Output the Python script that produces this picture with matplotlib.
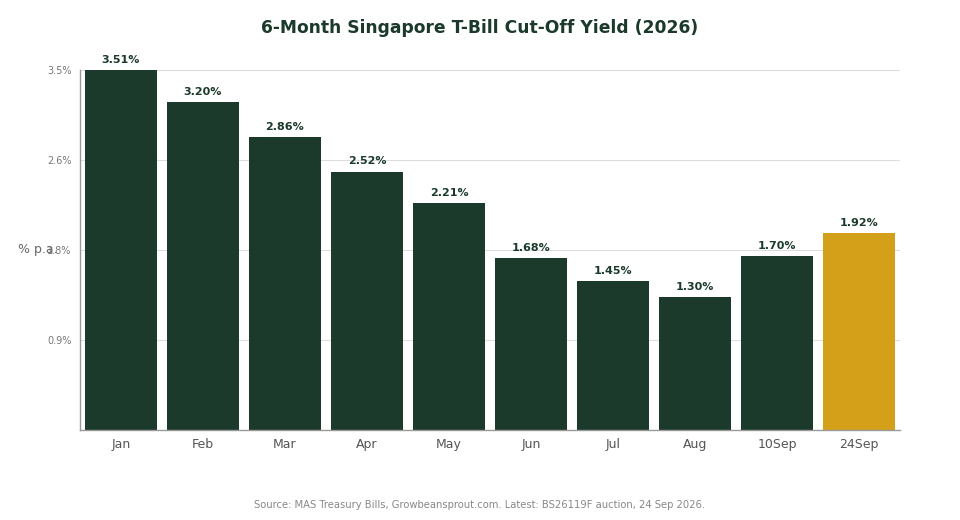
import numpy as np
import matplotlib.pyplot as plt
from matplotlib.ticker import FuncFormatter

# Data
labels = ['Jan', 'Feb', 'Mar', 'Apr', 'May', 'Jun', 'Jul', 'Aug', '10Sep', '24Sep']
yields = [3.51, 3.20, 2.86, 2.52, 2.21, 1.68, 1.45, 1.30, 1.70, 1.92]
highlight = '24Sep'

green = '#1b3a2b'
gold = '#d4a01a'
colors = [gold if l == highlight else green for l in labels]

fig = plt.figure(figsize=(9.6, 5.2), dpi=100)
ax = fig.add_axes([80/960, 90/520, 820/960, 360/520])

x = np.arange(len(labels))
bars = ax.bar(x, yields, width=0.89, color=colors, zorder=2)

for b, v in zip(bars, yields):
    ax.text(b.get_x() + b.get_width()/2, v + 0.05, f'{v:.2f}%', ha='center', va='bottom',
            fontsize=8, fontweight='bold', color=green)

ymax = max(yields)
ax.set_ylim(0, ymax)
ax.set_xlim(-0.5, len(labels) - 0.5)
ax.set_yticks(np.linspace(0, ymax, 5)[1:])
ax.yaxis.set_major_formatter(FuncFormatter(lambda v, p: f'{v:.1f}%'))
ax.set_xticks(x)
ax.set_xticklabels(labels)
ax.tick_params(axis='y', length=0, labelsize=7, labelcolor='#777777', pad=6)
ax.tick_params(axis='x', length=0, labelsize=9, labelcolor='#555555', pad=6)
ax.grid(axis='y', color='#dddddd', linewidth=0.8, zorder=0)
ax.set_axisbelow(True)

for s in ['top', 'right']:
    ax.spines[s].set_visible(False)
for s in ['left', 'bottom']:
    ax.spines[s].set_color('#999999')
    ax.spines[s].set_linewidth(1)

# label sits over the 1.8% tick, as in the original
ax.set_ylabel('% p.a.', rotation=0, fontsize=9, color='#666666', va='center', ha='center')
ax.yaxis.set_label_coords(-0.051, 0.5)

fig.text(0.5, 1 - 28/520, '6-Month Singapore T-Bill Cut-Off Yield (2026)', ha='center', va='center',
         fontsize=12.3, fontweight='bold', color=green)
fig.text(0.5, 1 - 505/520, 'Source: MAS Treasury Bills, Growbeansprout.com. Latest: BS26119F auction, 24 Sep 2026.',
         ha='center', va='center', fontsize=7.2, color='#888888')

fig.savefig('out.png', dpi=100)
